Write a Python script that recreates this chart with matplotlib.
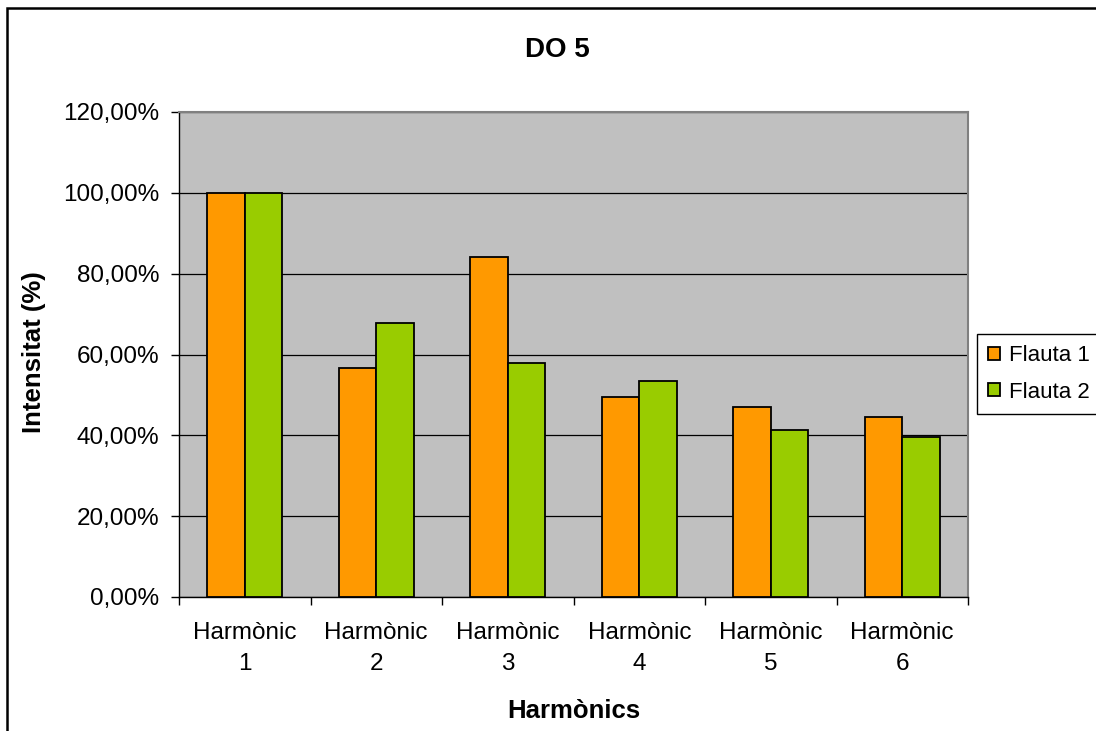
import matplotlib.pyplot as plt
import matplotlib.patches as patches
from matplotlib.ticker import FuncFormatter, MultipleLocator

# Dades llegides del gràfic
harmonics = ['Harmònic\n1', 'Harmònic\n2', 'Harmònic\n3',
             'Harmònic\n4', 'Harmònic\n5', 'Harmònic\n6']
flauta1 = [100.0, 56.6, 84.2, 49.4, 47.1, 44.5]
flauta2 = [100.0, 67.7, 57.9, 53.4, 41.4, 39.7]

plt.rcParams['font.family'] = ['Liberation Sans', 'DejaVu Sans']

fig = plt.figure(figsize=(10.96, 7.31), dpi=100)
ax = fig.add_axes([179 / 1096, 1 - 597 / 731, 789 / 1096, 485 / 731])

pos = list(range(1, len(harmonics) + 1))
w = 1 / 3.5
ax.bar([p - w / 2 for p in pos], flauta1, width=w, color='#FF9900',
       edgecolor='black', linewidth=1.3, label='Flauta 1', zorder=3)
ax.bar([p + w / 2 for p in pos], flauta2, width=w, color='#99CC00',
       edgecolor='black', linewidth=1.3, label='Flauta 2', zorder=3)

ax.set_facecolor('#C0C0C0')
ax.set_xlim(0.5, len(harmonics) + 0.5)
ax.set_ylim(0, 120)
ax.yaxis.set_major_locator(MultipleLocator(20))
ax.yaxis.set_major_formatter(FuncFormatter(lambda v, _: f"{v:.2f}".replace('.', ',') + '%'))
ax.grid(axis='y', color='black', linewidth=0.9, zorder=1)
ax.set_axisbelow(True)

# marques a les fronteres de categoria, etiquetes al centre
ax.set_xticks([p + 0.5 for p in range(0, len(harmonics) + 1)])
ax.set_xticklabels([])
ax.set_xticks(pos, minor=True)
ax.set_xticklabels(harmonics, minor=True, fontsize=17.5, linespacing=1.55)
ax.tick_params(axis='x', which='major', length=6, width=1, direction='out')
ax.tick_params(axis='x', which='minor', length=0, pad=18)
ax.tick_params(axis='y', length=6, width=1, direction='out', labelsize=17.5, pad=8)

for s in ['top', 'right']:
    ax.spines[s].set_color('#808080')
    ax.spines[s].set_linewidth(1.5)
for s in ['left', 'bottom']:
    ax.spines[s].set_color('black')
    ax.spines[s].set_linewidth(1)

ax.set_ylabel('Intensitat (%)', fontsize=18.5, fontweight='bold')
ax.yaxis.set_label_coords(-0.184, 0.505)
ax.yaxis.label.set_va('center')

fig.text(557 / 1096, 1 - 57 / 731, 'DO 5', fontsize=20, fontweight='bold',
         ha='center', va='baseline')
fig.text(574 / 1096, 1 - 718 / 731, 'Harmònics', fontsize=18.5, fontweight='bold',
         ha='center', va='baseline')

leg = fig.legend(loc='upper left', bbox_to_anchor=(977 / 1096, 1 - 334 / 731),
                 fontsize=16, frameon=True, fancybox=False, framealpha=1,
                 edgecolor='black', handlelength=0.55, handleheight=0.55,
                 handletextpad=0.4, borderpad=0.5, labelspacing=0.7,
                 borderaxespad=0)
leg.get_frame().set_linewidth(1)

# vora exterior del gràfic
fig.patches.append(patches.Rectangle((7 / 1096, -0.1), 1.2, 0.1 + 1 - 8 / 731,
                                     transform=fig.transFigure, fill=False,
                                     edgecolor='black', linewidth=1.8))

fig.savefig('out.png', dpi=100)
